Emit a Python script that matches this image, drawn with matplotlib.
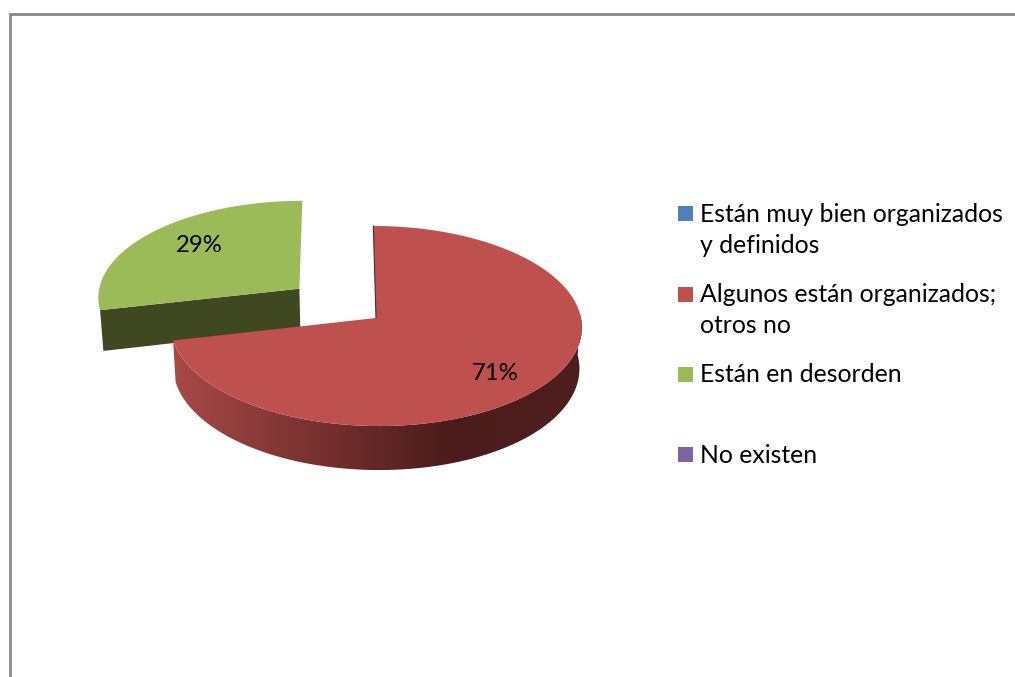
import numpy as np
import matplotlib
matplotlib.use("Agg")
import matplotlib.pyplot as plt
from matplotlib.patches import Polygon, Rectangle
from matplotlib.colors import LinearSegmentedColormap

# ---- data ----
categories = ["Están muy bien organizados\ny definidos",
              "Algunos están organizados;\notros no",
              "Están en desorden",
              "No existen"]
values = [0, 5, 2, 0]
colors = ["#4F81BD", "#BE504D", "#9BBB59", "#8064A2"]
exploded = [0, 0, 1, 0]

# ---- style / projection of the 3D pie, in pixels ----
W, H = 1015, 677
CX, CY, A, B, K = 376, 318, 205, 99.4, 0.08
VX = 340
EXPLODE = 0.484
FONT = "Lato"
FS_LABEL = 17.2
FS_LEGEND = 17.8
legend_swatch_y = [206, 287, 367, 447]
legend_baselines = [222, 302, 382, 463]
label_pos = {1: (495, 379.5), 2: (199, 252)}

plt.rcParams["font.family"] = [FONT, "DejaVu Sans"]
fig = plt.figure(figsize=(W / 100, H / 100), dpi=100, facecolor="white")
ax = fig.add_axes([0, 0, 1, 1])
ax.set_xlim(0, W)
ax.set_ylim(H, 0)
ax.axis("off")


def project(u, v):
    w = 1 + K * v
    return VX + (CX + A * u - VX) / w, CY - B * v / w


def drop(x, y, v):
    """Lower face of the disc for a top-face point."""
    return CX + (x - CX) * 0.988, y + 41 - 3 * v


def arc(t0, t1, du=0.0, dv=0.0, n=200):
    t = np.linspace(t0, t1, n)
    return np.sin(t) + du, np.cos(t) + dv


fractions = np.array(values, dtype=float) / sum(values)
edges = np.concatenate([[0], np.cumsum(fractions)]) * 2 * np.pi

# frame
ax.add_line(plt.Line2D([10, 10, W], [H, 14, 14], color="#888888", lw=2.0,
                       solid_joinstyle="miter"))

# exploded slices behind, the others in front
order = sorted(range(len(values)), key=lambda i: -exploded[i])
for i in order:
    if values[i] == 0:
        continue
    t0, t1 = edges[i], edges[i + 1]
    mid = (t0 + t1) / 2
    du = EXPLODE * np.sin(mid) * exploded[i]
    dv = EXPLODE * np.cos(mid) * exploded[i]
    u, v = arc(t0, t1, du, dv)
    x, y = project(u, v)
    ax_, ay_ = project(du, dv)

    if exploded[i]:
        # cut face at the start of the arc, seen from the front
        bx0, by0 = drop(x[0], y[0], v[0])
        bax, bay = drop(ax_, ay_, dv)
        ax.add_patch(Polygon([(x[0], y[0]), (ax_, ay_), (bax, bay), (bx0, by0)],
                             closed=True, fc="#404822", ec="none"))
    else:
        # outer wall with horizontal shading
        vis = (np.cos(np.linspace(t0, t1, 200)) < 0.05)
        xv, yv, vv = x[vis], y[vis], v[vis]
        bx, by = drop(xv, yv, vv)
        verts = np.vstack([np.c_[xv, yv], np.c_[bx, by][::-1]])
        poly = Polygon(verts, closed=True, fc="none", ec="none")
        ax.add_patch(poly)
        cmap = LinearSegmentedColormap.from_list(
            "wall", [(0, "#A84946"), (0.67, "#4B1C1B"), (1, "#4F1F1E")])
        grad = np.linspace(0, 1, 256)[None, :]
        im = ax.imshow(grad, extent=(verts[:, 0].min(), verts[:, 0].max(),
                                     verts[:, 1].max(), verts[:, 1].min()),
                       cmap=cmap, aspect="auto", zorder=1)
        im.set_clip_path(poly)
        ax.set_xlim(0, W)
        ax.set_ylim(H, 0)
        # thin sliver of the inner cut face
        ax.plot([x[0], ax_], [y[0], ay_], color="#5A2524", lw=0.8, zorder=3)

    ax.add_patch(Polygon(np.vstack([[ax_, ay_], np.c_[x, y]]), closed=True,
                         fc=colors[i], ec="none", zorder=2))

# percentage labels
for i, (lx, ly) in label_pos.items():
    ax.text(lx, ly, f"{fractions[i] * 100:.0f}%", ha="center", va="baseline",
            fontsize=FS_LABEL, color="black", zorder=5)

# legend
for name, col, sy, by in zip(categories, colors, legend_swatch_y, legend_baselines):
    ax.add_patch(Rectangle((678, sy), 15, 15, fc=col, ec="none"))
    for j, line in enumerate(name.split("\n")):
        ax.text(700, by + 31 * j, line, ha="left", va="baseline",
                fontsize=FS_LEGEND, color="black")

fig.savefig("out.png", dpi=100, facecolor="white")
